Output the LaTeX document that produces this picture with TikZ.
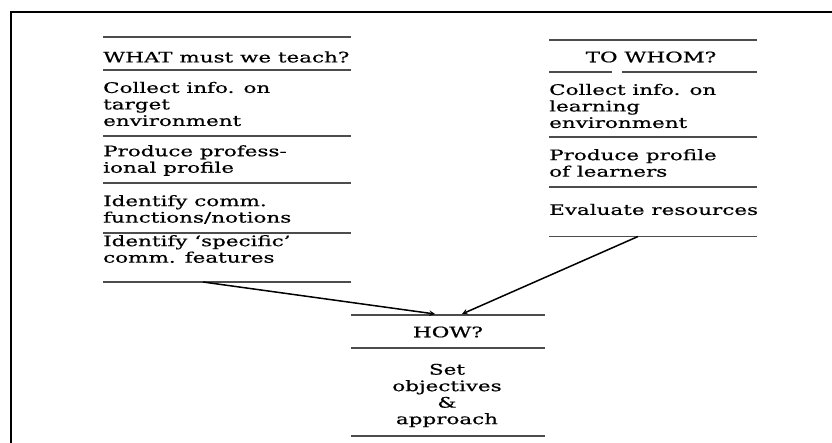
\documentclass[tikz,border=0pt]{standalone}
\usepackage{fontspec}
\setmainfont{DejaVu Serif}[FakeStretch=1.48, FakeBold=0.6]
\begin{document}
\begin{tikzpicture}[>=stealth, x=1pt, y=-1pt,
    rule/.style={line width=1.2pt, black!70},
    cell/.style={anchor=west, align=left, inner sep=0pt, font=\fontsize{14.5}{16.5}\selectfont},
    head/.style={cell, anchor=center, align=center}]
\useasboundingbox (0,0) rectangle (832,443);
\draw[line width=1.6pt](11,443)--(11,12)--(832,12);

\foreach \y in {37,70,136,183,233,282}
{
    \draw[rule](103,\y)--(351,\y);
}
\node[cell] (what) at (103,57) {WHAT must we teach?};
\node[cell] (target) at (103,104) {Collect info. on\\target\\environment};
\node[cell] (profile) at (103,160.5) {Produce profess-\\ional profile};
\node[cell] (functions) at (103,209.5) {Identify comm.\\functions/notions};
\node[cell] (features) at (103,249) {Identify `specific'\\comm. features};

\draw[rule](549,40)--(612,40)--(757,40);
\draw[rule](549,72)--(612,72) (622,72)--(757,72);
\foreach \y in {137,187,236.5}
{
    \draw[rule](549,\y)--(757,\y);
}
\node[head] (whom) at (651,57) {TO WHOM?};
\node[cell] (learning) at (549,106) {Collect info. on\\learning\\environment};
\node[cell] (learners) at (549,163) {Produce profile\\of learners};
\node[cell] (resources) at (549,209.5) {Evaluate resources};

\foreach \y in {315,348,436}
{
    \draw[rule](351,\y)--(545,\y);
}
\node[head] (how) at (448,332) {HOW?};
\node[head] (objectives) at (447,395.5) {Set\\objectives\\\&\\approach};

\coordinate (featout) at (203,282);
\coordinate (resout) at (638,236.5);
\coordinate (howin1) at (435,314);
\coordinate (howin2) at (462,314);
\draw[->, line width=1.5pt](featout)--(howin1);
\draw[->, line width=1.5pt](resout)--(howin2);
\end{tikzpicture}
\end{document}
